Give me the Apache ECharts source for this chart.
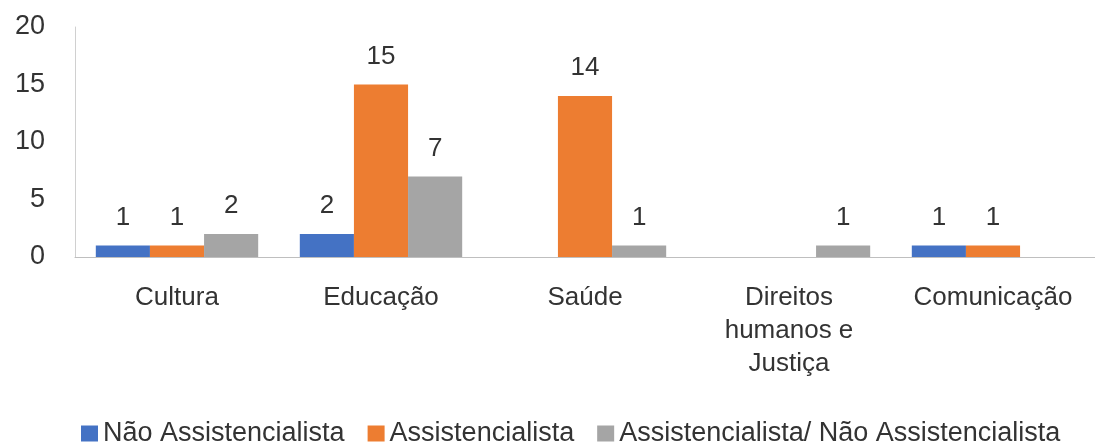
<!DOCTYPE html>
<html><head><meta charset="utf-8">
<script src="https://cdn.jsdelivr.net/npm/echarts@6/dist/echarts.min.js"></script>
<style>html,body{margin:0;padding:0;background:#fff}#c{width:1095px;height:448px}</style>
</head><body><div id="c"></div>
<script>
const categories = ['Cultura', 'Educação', 'Saúde', 'Direitos\nhumanos e\nJustiça', 'Comunicação'];
const seriesNames = ['Não Assistencialista', 'Assistencialista', 'Assistencialista/ Não Assistencialista'];
const naoAssist = [1, 2, null, null, 1];
const assist = [1, 15, 14, null, 1];
const ambos = [2, 7, 1, 1, null];
const yTicks = [0, 5, 10, 15, 20];
const colors = ['#4472C4', '#ED7D31', '#A5A5A5'];

const font = 'Liberation Sans';
const txt = '#333333';
const chart = echarts.init(document.getElementById('c'));
const mk = (name, data, color) => ({
  name, type: 'bar', data, barGap: '0%', barCategoryGap: '20.4%',
  itemStyle: { color },
  label: { show: true, position: 'top', distance: 15, color: txt, fontSize: 26, fontFamily: font }
});
chart.setOption({
  animation: false,
  grid: { left: 75, width: 1030, top: 27, bottom: 191, containLabel: false },
  xAxis: {
    type: 'category', data: categories,
    axisLine: { lineStyle: { color: '#BFBFBF' } },
    axisTick: { show: false },
    axisLabel: { color: txt, fontSize: 26, fontFamily: font, margin: 24, lineHeight: 33, interval: 0 }
  },
  yAxis: {
    type: 'value', min: yTicks[0], max: yTicks[yTicks.length - 1], interval: 5,
    axisLine: { show: true, lineStyle: { color: '#D0D0D0' } },
    axisTick: { show: false },
    splitLine: { show: false },
    axisLabel: { color: txt, fontSize: 27, fontFamily: font, margin: 30 }
  },
  legend: {
    left: 76, top: 415, itemWidth: 17, itemHeight: 16, itemGap: 23,
    icon: 'rect',
    textStyle: { fontSize: 27, fontFamily: font, color: txt },
    data: seriesNames
  },
  series: [mk(seriesNames[0], naoAssist, colors[0]), mk(seriesNames[1], assist, colors[1]), mk(seriesNames[2], ambos, colors[2])]
});
</script></body></html>
